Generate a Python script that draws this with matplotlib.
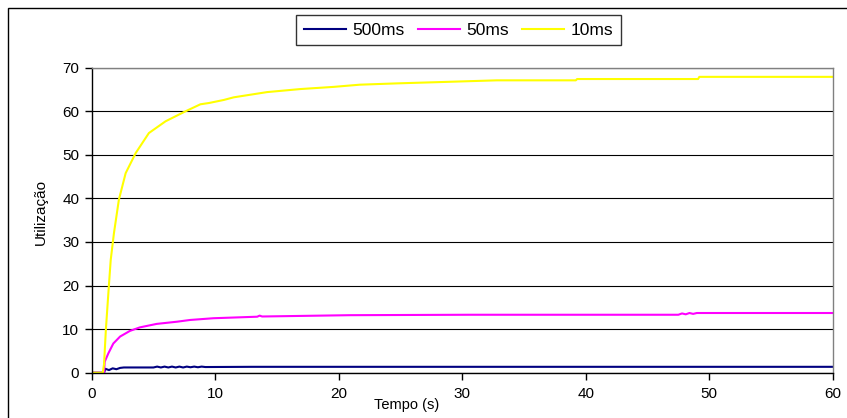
import matplotlib
matplotlib.use("Agg")
import matplotlib.pyplot as plt
from matplotlib.patches import Rectangle

plt.rcParams['font.family'] = ['Liberation Sans', 'DejaVu Sans']

# time (s) and utilisation values
t_10 = [0, 0.9, 1.0, 1.15, 1.35, 1.54, 1.8, 2.2, 2.75, 3.56, 4.63, 5.98, 7.6, 8.8, 9.5, 10.7,
        11.5, 14.2, 16.9, 19.6, 21.7, 24.7, 28.2, 32.8, 39.2, 39.3, 49.1, 49.2, 60]
u_10 = [0, 0, 2, 10, 18.3, 25.9, 32, 39.7, 45.8, 50.4, 55, 57.7, 60, 61.6, 61.9, 62.6,
        63.2, 64.4, 65.1, 65.6, 66.1, 66.4, 66.7, 67.1, 67.1, 67.4, 67.4, 67.9, 67.9]

t_50 = [0, 1.0, 1.05, 1.35, 1.75, 2.3, 3.1, 3.9, 5.26, 6.9, 7.96, 9.85, 13.4, 13.6, 13.8, 20.9,
        30.6, 47.5, 47.8, 48.1, 48.4, 48.7, 49.0, 60]
u_50 = [0, 0, 2.5, 4.45, 6.7, 8.3, 9.6, 10.4, 11.2, 11.7, 12.1, 12.5, 12.85, 13.1, 12.9, 13.2,
        13.3, 13.3, 13.6, 13.4, 13.7, 13.5, 13.7, 13.7]

t_500 = [0, 1.0, 1.1, 1.4, 1.7, 2.0, 2.3, 2.6, 5.0, 5.3, 5.6, 5.9, 6.2, 6.5, 6.8, 7.1, 7.4, 7.7,
         8.0, 8.3, 8.6, 8.9, 9.2, 13.0, 30.0, 60]
u_500 = [0, 0, 0.9, 0.6, 1.0, 0.8, 1.1, 1.2, 1.2, 1.4, 1.2, 1.4, 1.2, 1.4, 1.2, 1.4, 1.2, 1.4,
         1.25, 1.4, 1.25, 1.4, 1.3, 1.35, 1.35, 1.35]

series = [("500ms", t_500, u_500, "#000080"),
          ("50ms", t_50, u_50, "#FF00FF"),
          ("10ms", t_10, u_10, "#FFFF00")]

x_ticks = [0, 10, 20, 30, 40, 50, 60]
y_ticks = [0, 10, 20, 30, 40, 50, 60, 70]

W, H = 847, 418
fig = plt.figure(figsize=(W / 100, H / 100), dpi=100)
ax = fig.add_axes([91.7 / W, 1 - 372.7 / H, (832.7 - 91.7) / W, (372.7 - 67.7) / H])

for name, t, u, c in series:
    ax.plot(t, u, color=c, lw=1.5, label=name)

ax.set_xlim(0, 60)
ax.set_ylim(0, 70)
ax.set_xticks(x_ticks)
ax.set_yticks(y_ticks)
ax.tick_params(axis='both', direction='out', length=5, width=1, labelsize=11, color='black')
ax.tick_params(axis='y', pad=4)
ax.tick_params(axis='x', pad=5)
ax.yaxis.grid(True, color='black', lw=0.8)
ax.set_axisbelow(True)
for s in ['left', 'bottom']:
    ax.spines[s].set_color('black')
    ax.spines[s].set_linewidth(1.0)
for s in ['top', 'right']:
    ax.spines[s].set_color('#808080')
    ax.spines[s].set_linewidth(1.0)

fig.text(407 / W, 1 - 405 / H, "Tempo (s)", ha='center', va='center', fontsize=10.5)
fig.text(41 / W, 1 - 212 / H, "Utilização", ha='center', va='center', rotation=90, fontsize=11)

leg = fig.legend(loc='center', bbox_to_anchor=(458.5 / W, 1 - 30 / H), ncol=3, frameon=True,
                 fancybox=False, edgecolor='black', fontsize=12.5, handlelength=2.4,
                 columnspacing=0.8, handletextpad=0.35, borderpad=0.45, borderaxespad=0)
leg.get_frame().set_linewidth(1.0)

# outer chart frame
fig.patches.append(Rectangle((7.5 / W, -0.05), 1.2, (1 - 7.5 / H) + 0.05,
                             transform=fig.transFigure, fill=False, edgecolor='black', lw=1.0))

fig.savefig("out.png", dpi=100)
